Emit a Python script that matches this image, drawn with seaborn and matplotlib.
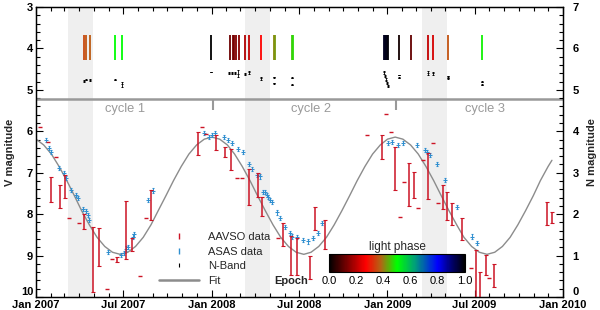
import numpy as np
import pandas as pd
import matplotlib
matplotlib.use("Agg")
import matplotlib.pyplot as plt
import matplotlib.dates as mdates
from matplotlib.ticker import MultipleLocator, FixedLocator
from matplotlib.colors import LinearSegmentedColormap, Normalize
from matplotlib.cm import ScalarMappable
from matplotlib.lines import Line2D
import seaborn as sns

# ---------------- data (days counted from 2007-01-01) ----------------
T0 = "2007-01-01"

aavso_bar_day = [31, 50, 61, 100, 119, 130, 168, 188, 199, 239, 336, 374, 393, 405, 444, 462, 471, 513, 530, 542,
                 570, 580, 600, 719, 747, 776, 787, 816, 846, 854, 866, 885, 915, 923, 935, 953, 1062, 1073]
aavso_bar_v = [7.40, 7.58, 7.33, 8.18, 9.10, 8.79, 9.09, 8.38, 8.73, 7.78, 6.29, 6.27, 6.49, 6.68, 7.35, 7.29, 7.81,
               8.50, 9.00, 9.02, 9.28, 8.10, 8.48, 6.38, 6.90, 7.28, 7.30, 7.08, 7.59, 7.80, 8.00, 8.36, 9.49, 9.71,
               9.23, 9.48, 7.98, 8.08]
aavso_bar_err = [0.30, 0.28, 0.27, 0.18, 0.79, 0.45, 0.06, 0.70, 0.15, 0.36, 0.28, 0.18, 0.12, 0.25, 0.43, 0.29, 0.23,
                 0.28, 0.47, 0.45, 0.28, 0.28, 0.35, 0.29, 0.52, 0.52, 0.32, 0.56, 0.29, 0.34, 0.26, 0.26, 0.62, 0.32,
                 0.24, 0.28, 0.28, 0.14]

aavso_pt_day = [8, 24, 42, 69, 90, 148, 159, 216, 228, 345, 354, 418, 428, 504, 689, 728, 738, 757, 765, 795, 805,
                825, 835, 904, 943]
aavso_pt_v = [5.89, 6.25, 6.61, 8.09, 8.22, 9.81, 9.08, 9.50, 8.09, 5.89, 6.07, 7.13, 7.13, 8.58, 6.09, 5.58, 6.01,
              8.08, 7.22, 7.86, 6.69, 6.29, 7.74, 9.31, 9.55]

asas_day = [21, 28, 31, 48, 59, 62, 73, 83, 87, 97, 103, 108, 111, 149, 177, 183, 187, 191, 201, 204, 232, 243, 350,
            360, 365, 372, 390, 400, 407, 421, 431, 442, 449, 459, 466, 473, 476, 480, 483, 487, 490, 501, 507, 518,
            528, 532, 542, 556, 566, 577, 587, 595, 733, 740, 753, 763, 793, 809, 813, 819, 833, 850, 875, 906, 918]
asas_v = [6.21, 6.41, 6.49, 6.89, 7.01, 7.13, 7.42, 7.54, 7.62, 7.88, 7.92, 8.02, 8.14, 8.91, 8.99, 8.93, 8.83, 8.79,
          8.54, 8.49, 7.66, 7.43, 6.05, 6.13, 6.09, 6.05, 6.13, 6.21, 6.28, 6.43, 6.51, 6.79, 6.91, 7.05, 7.09, 7.46,
          7.46, 7.54, 7.58, 7.66, 7.70, 7.96, 8.10, 8.32, 8.46, 8.54, 8.56, 8.62, 8.66, 8.58, 8.46, 8.22, 6.29, 6.25,
          6.33, 6.29, 6.33, 6.45, 6.49, 6.57, 6.78, 7.18, 7.82, 8.54, 8.70]

nband_day = [99, 105, 112, 164, 179, 364, 401, 408, 414, 420, 435, 443, 468, 495, 495, 532, 532, 724, 726, 728, 730,
             732, 755, 755, 815, 826, 857, 857, 928, 928]
nband_n = [5.22, 5.25, 5.24, 5.25, 5.14, 5.43, 5.40, 5.41, 5.40, 5.39, 5.38, 5.42, 5.28, 5.30, 5.16, 5.29, 5.12,
           5.42, 5.33, 5.25, 5.16, 5.10, 5.36, 5.29, 5.41, 5.40, 5.33, 5.28, 5.20, 5.12]
nband_err = [0.02, 0.02, 0.02, 0.02, 0.06, 0.01, 0.02, 0.02, 0.02, 0.09, 0.03, 0.03, 0.04, 0.01, 0.01, 0.01, 0.01,
             0.04, 0.03, 0.04, 0.03, 0.02, 0.01, 0.01, 0.04, 0.03, 0.01, 0.01, 0.01, 0.01]

epoch_day = [99, 105, 112, 164, 179, 364, 403, 409, 412, 416, 422, 435, 443, 468, 495, 497, 532, 535, 724, 726, 728,
             730, 732, 755, 780, 815, 826, 857, 928]
epoch_phase = [0.35, 0.36, 0.37, 0.50, 0.50, 0.0, 0.12, 0.13, 0.13, 0.14, 0.15, 0.19, 0.21, 0.27, 0.41, 0.42, 0.46,
               0.47, 0.97, 0.97, 0.98, 0.98, 0.99, 0.02, 0.11, 0.21, 0.23, 0.36, 0.49]

fit_day = [0, 16, 32, 48, 64, 80, 95, 111, 127, 143, 159, 175, 191, 207, 223, 239, 254, 270, 286, 302,
           318, 334, 350, 366, 382, 398, 413, 429, 445, 461, 477, 493, 509, 525, 541, 557, 572, 588, 604, 620,
           636, 652, 668, 684, 700, 716, 731, 747, 763, 779, 795, 811, 827, 843, 859, 875, 890, 906, 922, 938,
           954, 970, 986, 1002, 1018, 1034, 1049, 1065, 1073]
fit_v = [6.19, 6.33, 6.55, 6.85, 7.19, 7.56, 7.92, 8.26, 8.56, 8.78, 8.92, 8.97, 8.92, 8.78, 8.56, 8.26, 7.92, 7.56,
         7.19, 6.85, 6.55, 6.33, 6.19, 6.14,
         6.19, 6.33, 6.55, 6.85, 7.19, 7.56, 7.92, 8.26, 8.56, 8.78, 8.92, 8.97, 8.92, 8.78, 8.56, 8.26, 7.92, 7.56,
         7.19, 6.85, 6.55, 6.33, 6.19, 6.14,
         6.19, 6.33, 6.55, 6.85, 7.19, 7.56, 7.92, 8.26, 8.56, 8.78, 8.92, 8.97, 8.92, 8.78, 8.56, 8.26, 7.92, 7.56,
         7.19, 6.85, 6.70]

shade_start_day = [66, 435, 803]
shade_end_day = [118, 487, 854]
cycle_labels = ["cycle 1", "cycle 2", "cycle 3"]
cycle_label_day = [185, 572, 934]
cycle_break_day = [368, 749]
v_ticks = [3, 4, 5, 6, 7, 8, 9, 10]
n_ticks = [0, 1, 2, 3, 4, 5, 6, 7]
cbar_ticks = [0.0, 0.2, 0.4, 0.6, 0.8, 1.0]
legend_labels = ["AAVSO data", "ASAS data", "N-Band", "Fit"]


def to_date(days):
    return pd.Timestamp(T0) + pd.to_timedelta(np.asarray(days, dtype=float), unit="D")


# ---------------- style ----------------
sns.set_theme(style="ticks")
plt.rcParams["font.family"] = ["Liberation Sans", "DejaVu Sans"]
plt.rcParams["font.weight"] = "bold"
plt.rcParams["axes.labelweight"] = "bold"
plt.rcParams["axes.edgecolor"] = "black"
plt.rcParams["xtick.color"] = "black"
plt.rcParams["ytick.color"] = "black"

RED = "#cc1425"
BLUE = "#2f8fd0"
GRAY = "#8c8c8c"
cmap = LinearSegmentedColormap.from_list(
    "lightphase",
    [(0.0, "#000000"), (0.12, "#6e0000"), (0.27, "#ff0000"), (0.38, "#b46414"), (0.5, "#00ff00"),
     (0.63, "#00a078"), (0.8, "#0000ff"), (0.9, "#000070"), (1.0, "#000000")])
norm = Normalize(0, 1)

fig = plt.figure(figsize=(6, 3.1), dpi=100)
ax = fig.add_axes([36 / 600, 1 - 297 / 310, (563 - 36) / 600, (297 - 7) / 310])

for s, e in zip(shade_start_day, shade_end_day):
    ax.axvspan(to_date([s])[0], to_date([e])[0], color="#efefef", lw=0, zorder=0)

sns.lineplot(x=to_date(fit_day), y=fit_v, ax=ax, color=GRAY, lw=1.0, zorder=2, legend=False)

ax.errorbar(to_date(aavso_bar_day), aavso_bar_v, yerr=aavso_bar_err, fmt="none", ecolor=RED,
            elinewidth=1.1, capsize=1.2, capthick=0.8, zorder=4)
ax.plot(to_date(aavso_pt_day), aavso_pt_v, ls="none", marker="_", ms=3.5, mew=1.0, color=RED, zorder=4)
ax.errorbar(to_date(asas_day), asas_v, yerr=0.05, fmt="_", ms=2.5, mew=0.8, color=BLUE,
            elinewidth=0.7, capsize=1.0, capthick=0.7, zorder=3)

ax.vlines(to_date(epoch_day), 3.68, 4.28, colors=cmap(norm(np.asarray(epoch_phase))), lw=1.3, zorder=3)

ax.axhline(5.21, color="#999999", lw=1.8, zorder=2)
ax.vlines(to_date(cycle_break_day), 5.21, 5.49, color="#999999", lw=1.5, zorder=2)
for lab, d in zip(cycle_labels, cycle_label_day):
    ax.text(to_date([d])[0], 5.47, lab, ha="center", va="center", color="#9a9a9a",
            fontsize=9.3, fontweight="normal")

ax.set_xlim(pd.Timestamp("2007-01-01"), pd.Timestamp("2010-01-01"))
ax.set_ylim(10, 3)
ax.yaxis.set_major_locator(FixedLocator(v_ticks))
ax.yaxis.set_minor_locator(MultipleLocator(0.2))
ax.xaxis.set_major_locator(mdates.MonthLocator(bymonth=[1, 7]))
ax.xaxis.set_minor_locator(mdates.MonthLocator())
ax.xaxis.set_major_formatter(mdates.DateFormatter("%b %Y"))
ax.tick_params(which="both", direction="in", top=True, right=False, labelsize=8, width=0.8)
ax.tick_params(which="major", length=5)
ax.tick_params(which="minor", length=2.8)
ax.tick_params(axis="x", pad=2.5)
ax.tick_params(axis="y", pad=2)
ax.set_ylabel("V magnitude", fontsize=8, labelpad=4)
ax.set_xlabel("")
for sp in ax.spines.values():
    sp.set_linewidth(0.9)
ax.yaxis.get_major_ticks()[-1].label1.set_verticalalignment("bottom")

ax2 = ax.twinx()
ax2.errorbar(to_date(nband_day), nband_n, yerr=nband_err, fmt="_", ms=2.0, mew=0.7, color="black",
             elinewidth=0.6, capsize=0.9, capthick=0.6, zorder=3)
ax2.set_ylim(0, 7)
ax2.yaxis.set_major_locator(FixedLocator(n_ticks))
ax2.yaxis.set_minor_locator(MultipleLocator(0.2))
ax2.tick_params(which="both", direction="in", labelsize=8, width=0.8, pad=7)
ax2.tick_params(which="major", length=5)
ax2.tick_params(which="minor", length=2.8)
ax2.set_ylabel("N magnitude", fontsize=8, labelpad=6)
for sp in ax2.spines.values():
    sp.set_linewidth(0.9)
ax2.yaxis.get_major_ticks()[0].label2.set_verticalalignment("bottom")

# legend
handles = [Line2D([], [], color=RED, marker="|", ls="none", ms=5, mew=1.0),
           Line2D([], [], color=BLUE, marker="|", ls="none", ms=4, mew=1.0),
           Line2D([], [], color="black", marker="|", ls="none", ms=3.5, mew=0.8),
           Line2D([], [], color=GRAY, lw=1.8)]
ax2.legend(handles, legend_labels, loc="upper left", bbox_to_anchor=(159 / 600, 1 - 232 / 310),
           bbox_transform=fig.transFigure, frameon=False, prop={"size": 8, "weight": "normal"},
           handlelength=3.6, handletextpad=0.8, labelspacing=0.42, borderpad=0, borderaxespad=0)

# colorbar
cax = fig.add_axes([329 / 600, 1 - 272 / 310, 136 / 600, 18 / 310])
cb = fig.colorbar(ScalarMappable(norm=norm, cmap=cmap), cax=cax, orientation="horizontal")
cb.set_ticks(cbar_ticks)
cax.set_xticklabels([f"{t:.1f}" for t in cbar_ticks], fontsize=8, fontweight="normal")
cax.tick_params(length=0, pad=3)
cb.outline.set_linewidth(0.8)
cax.set_title("light phase", fontsize=8.5, fontweight="normal", pad=3)
fig.text(291 / 600, 1 - 281 / 310, "Epoch", ha="center", va="center", fontsize=8, fontweight="bold")

fig.savefig("out.png", dpi=100)
